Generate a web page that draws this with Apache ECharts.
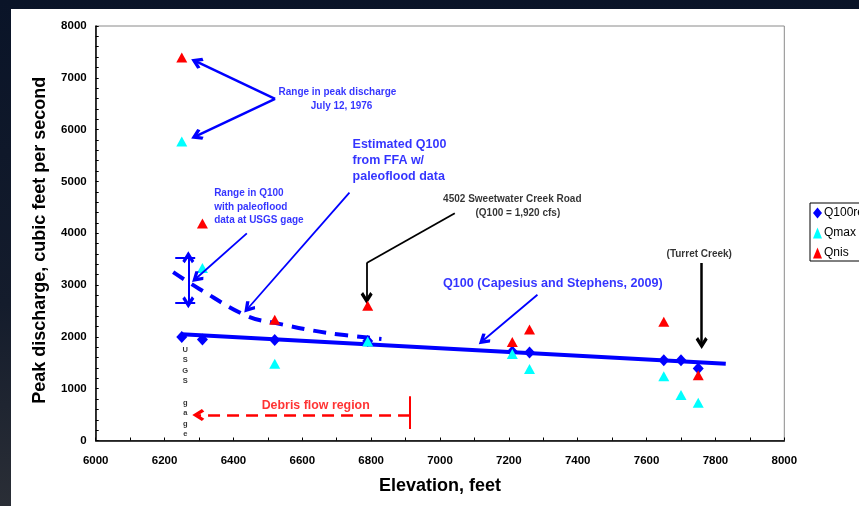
<!DOCTYPE html>
<html>
<head>
<meta charset="utf-8">
<script src="https://cdn.jsdelivr.net/npm/echarts@6/dist/echarts.min.js"></script>
<style>
html,body{margin:0;padding:0;width:859px;height:506px;overflow:hidden;
  background:linear-gradient(180deg,#0a1428 0%,#141c2c 60%,#2a2e36 100%);}
#c{width:859px;height:506px;}
</style>
</head>
<body>
<div id="c"></div>
<script>
// ---- data ----
const elevations = [6250, 6310, 6520, 6790, 7210, 7260, 7650, 7700, 7750];
const q100reg    = [2000, 1950, 1940, 1920, 1720, 1700, 1550, 1550, 1390];
const qmax       = [5770, 3330, 1480, 1910, 1670, 1380, 1240, 880, 730];
const qnisElev   = [6250, 6310, 6520, 6790, 7210, 7260, 7650, 7750];
const qnis       = [7390, 4190, 2330, 2600, 1900, 2140, 2290, 1260];
// fitted regression line (Capesius and Stephens, 2009)
const regElev = [6250, 7830];
const regQ    = [2050, 1480];
// estimated Q100 from FFA with paleoflood data (dashed curve)
const ffaElev = [6225, 6300, 6440, 6520, 6670, 6830];
const ffaQ    = [3250, 2930, 2400, 2270, 2080, 1960];
// range in Q100 at USGS gage
const rangeElev = 6269;
const rangeLow = 2668, rangeHigh = 3536;
// debris flow region
const debrisStart = 6913, debrisEnd = 6298, debrisQ = 490;
const seriesNames = ['Q100reg', 'Qmax', 'Qnis'];
const xTicks = [6000, 6200, 6400, 6600, 6800, 7000, 7200, 7400, 7600, 7800, 8000];
const yTicks = [0, 1000, 2000, 3000, 4000, 5000, 6000, 7000, 8000];

const BLUE = '#0000ff', CYAN = '#00ffff', RED = '#ff0000';
const FONT = '"Liberation Sans", Arial, sans-serif';
const chevron = 'path://M0,0 L10,10 L6,12.5 L0,6.5 L-6,12.5 L-10,10 Z';

function zip(xs, ys) { return xs.map((x, i) => [x, ys[i]]); }
function arrow(p1, p2, color, width, endSym, startSym, dashed) {
  return {
    type: 'line', silent: true, data: [], z: 6,
    markLine: {
      silent: true, animation: false,
      symbol: [startSym || 'none', endSym || chevron],
      symbolSize: [12, 12],
      label: { show: false },
      lineStyle: { color: color, width: width, type: dashed ? [12, 7] : 'solid', opacity: 1 },
      emphasis: { disabled: true },
      data: [[{ coord: p1 }, { coord: p2 }]]
    }
  };
}
function note(pos, text, color, size, align, lh) {
  return {
    value: pos,
    label: {
      show: true, formatter: text, color: color, fontSize: size, fontWeight: 'bold',
      fontFamily: FONT, position: align === 'left' ? 'right' : 'inside', distance: 0,
      align: align || 'center', lineHeight: lh || size * 1.2
    }
  };
}

const chart = echarts.init(document.getElementById('c'), null, { renderer: 'canvas' });
const option = {
  animation: false,
  backgroundColor: 'transparent',
  graphic: [{ type: 'rect', z: -100, silent: true, shape: { x: 11, y: 9, width: 848, height: 497 }, style: { fill: '#ffffff' } }],
  grid: { left: 95.7, top: 26, right: 74.7, bottom: 65.5, show: true, borderColor: '#8a8a8a', borderWidth: 1, backgroundColor: 'transparent' },
  legend: {
    data: seriesNames.map(n => ({ name: n })),
    orient: 'vertical', left: 810, top: 203,
    padding: [4, 40, 2, 3], itemGap: 8, itemWidth: 9, itemHeight: 11,
    borderColor: '#000', borderWidth: 1, backgroundColor: '#fff',
    textStyle: { fontFamily: FONT, fontSize: 12, color: '#000', padding: [0, 0, 0, -3] },
    selectedMode: false
  },
  xAxis: {
    type: 'value', min: xTicks[0], max: xTicks[xTicks.length - 1], interval: 200,
    name: 'Elevation, feet', nameLocation: 'middle', nameGap: 37,
    nameTextStyle: { fontFamily: FONT, fontSize: 18, fontWeight: 'bold', color: '#000' },
    axisLine: { lineStyle: { color: '#000', width: 1.5 } },
    axisTick: { inside: true, length: 3, lineStyle: { color: '#000' } },
    minorTick: { show: true, splitNumber: 2, length: 3, lineStyle: { color: '#000' } },
    axisLabel: { margin: 14, fontFamily: FONT, fontSize: 11.5, fontWeight: 'bold', color: '#000',
      formatter: v => String(v) },
    splitLine: { show: false }
  },
  yAxis: {
    type: 'value', min: yTicks[0], max: yTicks[yTicks.length - 1], interval: 1000,
    name: 'Peak discharge, cubic feet per second', nameLocation: 'middle', nameGap: 46.5,
    nameTextStyle: { fontFamily: FONT, fontSize: 18, fontWeight: 'bold', color: '#000', padding: [0, 14, 0, 0] },
    axisLine: { show: true, lineStyle: { color: '#000', width: 1.5 } },
    axisTick: { show: true, inside: true, length: 3, lineStyle: { color: '#000' } },
    minorTick: { show: true, splitNumber: 5, length: 3, lineStyle: { color: '#000' } },
    axisLabel: { margin: 9, fontFamily: FONT, fontSize: 11.5, fontWeight: 'bold', color: '#000',
      formatter: v => String(v) },
    splitLine: { show: false }
  },
  series: [
    { name: 'regline', type: 'line', data: zip(regElev, regQ), symbol: 'none', z: 2,
      lineStyle: { color: BLUE, width: 4 } },
    { name: 'ffa', type: 'line', data: zip(ffaElev, ffaQ), symbol: 'none', smooth: 0.4, z: 2,
      lineStyle: { color: BLUE, width: 4, type: [13, 9] } },
    { name: seriesNames[0], type: 'scatter', data: zip(elevations, q100reg), symbol: 'diamond',
      symbolSize: [11, 12], itemStyle: { color: BLUE, opacity: 1 }, z: 3 },
    { name: seriesNames[1], type: 'scatter', data: zip(elevations, qmax), symbol: 'triangle',
      symbolSize: [11, 10], itemStyle: { color: CYAN, opacity: 1 }, z: 4 },
    { name: seriesNames[2], type: 'scatter', data: zip(qnisElev, qnis), symbol: 'triangle',
      symbolSize: [11, 10], itemStyle: { color: RED, opacity: 1 }, z: 5 },
    // range bar at the USGS gage
    arrow([rangeElev, rangeLow], [rangeElev, rangeHigh], BLUE, 2, chevron, chevron),
    arrow([rangeElev - 38, rangeHigh], [rangeElev + 20, rangeHigh], BLUE, 2, 'none'),
    arrow([rangeElev - 38, rangeLow], [rangeElev + 20, rangeLow], BLUE, 2, 'none'),
    // debris flow
    arrow([debrisStart, debrisQ], [debrisEnd, debrisQ], RED, 2.5, chevron, 'none', true),
    arrow([debrisStart, 222], [debrisStart, 853], RED, 2, 'none'),
    // annotation arrows
    arrow([6521, 6592], [6293, 7311], BLUE, 2.5),
    arrow([6521, 6592], [6293, 5878], BLUE, 2.5),
    arrow([6439, 3999], [6293, 3136], BLUE, 1.8),
    arrow([6737, 4783], [6443, 2557], BLUE, 1.8),
    arrow([7283, 2814], [7126, 1934], BLUE, 1.8),
    arrow([7043, 4385], [6787, 3426], '#000', 1.8, 'none'),
    arrow([6787, 3426], [6787, 2750], '#000', 1.8),
    arrow([7760, 3426], [7760, 1882], '#000', 2.5),
    // annotation texts
    { name: 'notes', type: 'scatter', symbolSize: 0, silent: true, z: 7,
      data: [
        note([6702, 6585], 'Range in peak discharge\n   July 12, 1976', BLUE, 10, 'center', 13.5),
        note([6344, 4505], 'Range in Q100\nwith paleoflood\ndata at USGS gage', BLUE, 10, 'left', 13.5),
        note([6746, 5404], 'Estimated Q100\nfrom FFA w/\npaleoflood data', BLUE, 12.5, 'left', 16.4),
        note([7210, 4520], '4502 Sweetwater Creek Road\n    (Q100 = 1,920 cfs)', '#000', 10, 'center', 14),
        note([7753, 3600], '(Turret Creek)', '#000', 10, 'center'),
        note([7328, 3027], 'Q100 (Capesius and Stephens, 2009)', BLUE, 12.6, 'center'),
        note([6639, 672], 'Debris flow region', RED, 12.4, 'center'),
        note([6260, 936], 'U\nS\nG\nS\n\ng\na\ng\ne', '#000', 7.5, 'center', 10.6)
      ] }
  ]
};
chart.setOption(option);
</script>
</body>
</html>
